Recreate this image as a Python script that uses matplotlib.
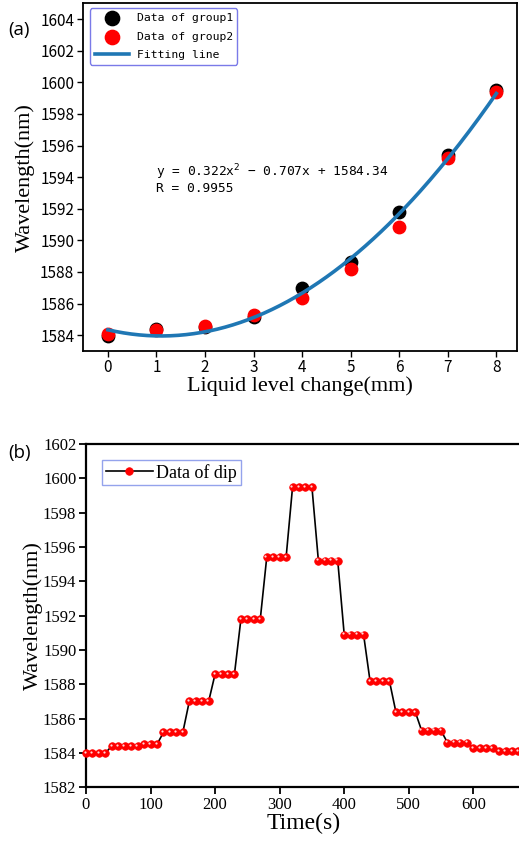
import numpy as np
import matplotlib
matplotlib.use("Agg")
import matplotlib.pyplot as plt
from matplotlib.transforms import offset_copy

# ---------------- data ----------------
level_mm = [0, 1, 2, 3, 4, 5, 6, 7, 8]
group1 = [1583.96, 1584.42, 1584.52, 1585.16, 1586.99, 1588.63, 1591.77, 1595.37, 1599.52]
group2 = [1584.10, 1584.32, 1584.59, 1585.30, 1586.36, 1588.20, 1590.84, 1595.22, 1599.41]
fit_coef = [0.322, -0.707, 1584.34]          # y = a x^2 + b x + c (from the chart text)
fit_text = "y = 0.322x$^2$ \u2212 0.707x + 1584.34"
r_text = "R = 0.9955"

time_s = list(range(0, 680, 10))
dip_nm = [1584.0, 1584.0, 1584.0, 1584.0,
          1584.4, 1584.4, 1584.4, 1584.4, 1584.4,
          1584.5, 1584.5, 1584.5,
          1585.2, 1585.2, 1585.2, 1585.2,
          1587.0, 1587.0, 1587.0, 1587.0,
          1588.6, 1588.6, 1588.6, 1588.6,
          1591.8, 1591.8, 1591.8, 1591.8,
          1595.4, 1595.4, 1595.4, 1595.4,
          1599.5, 1599.5, 1599.5, 1599.5,
          1595.2, 1595.2, 1595.2, 1595.2,
          1590.9, 1590.9, 1590.9, 1590.9,
          1588.2, 1588.2, 1588.2, 1588.2,
          1586.4, 1586.4, 1586.4, 1586.4,
          1585.3, 1585.3, 1585.3, 1585.3,
          1584.6, 1584.6, 1584.6, 1584.6,
          1584.3, 1584.3, 1584.3, 1584.3,
          1584.1, 1584.1, 1584.1, 1584.1]

xticks_a = [0, 1, 2, 3, 4, 5, 6, 7, 8]
yticks_a = list(range(1584, 1606, 2))
xticks_b = [0, 100, 200, 300, 400, 500, 600]
yticks_b = list(range(1582, 1604, 2))

# ---------------- figure ----------------
fig = plt.figure(figsize=(5.19, 8.47), dpi=100)
serif = "Liberation Serif"
sans = "Noto Sans CJK SC"
mono = "DejaVu Sans Mono"

# ---- panel (a) ----
ax1 = fig.add_axes([0.1593, 0.5856, 0.9956 - 0.1593, 0.9961 - 0.5856])
ax1.scatter(level_mm, group1, s=80, color="black", label="Data of group1", zorder=3)
ax1.scatter(level_mm, group2, s=80, color="red", label="Data of group2", zorder=4)
xf = np.linspace(level_mm[0], level_mm[-1], 200)
yf = np.polyval(fit_coef, xf)
ax1.plot(xf, yf, color="#1f77b4", lw=2.6, label="Fitting line", zorder=5)
ax1.set_xlim(-0.52, 8.42)
ax1.set_ylim(1583.0, 1605.0)
ax1.set_xticks(xticks_a)
ax1.set_yticks(yticks_a)
for lab in ax1.get_xticklabels() + ax1.get_yticklabels():
    lab.set_fontfamily(sans)
    lab.set_fontsize(11)
ax1.tick_params(direction="out", length=4, width=1, pad=2)
for sp in ax1.spines.values():
    sp.set_linewidth(1.3)
ax1.set_xlabel("Liquid level change(mm)", fontfamily=serif, fontsize=16, labelpad=0)
ax1.set_ylabel("Wavelength(nm)", fontfamily=serif, fontsize=16, labelpad=4)
ax1.text(1.0, 1594.3, fit_text, fontfamily=mono, fontsize=9.3, va="center", ha="left")
ax1.text(1.0, 1593.3, r_text, fontfamily=mono, fontsize=9.3, va="center", ha="left")
leg1 = ax1.legend(loc="upper left", prop={"family": mono, "size": 8.2},
                  frameon=True, fancybox=True, borderpad=0.4, labelspacing=0.75,
                  handlelength=3.0, handletextpad=0.7, borderaxespad=0.45,
                  markerscale=1.15, bbox_to_anchor=(0.005, 1.0))
leg1.get_frame().set_edgecolor("#7a7ae8")
leg1.get_frame().set_linewidth(1.0)
leg1.get_frame().set_alpha(1)

# ---- panel (b) ----
ax2 = fig.add_axes([0.1657, 0.0705, 1.004 - 0.1657, 0.4758 - 0.0705])
ax2.plot(time_s, dip_nm, color="black", lw=1.2, marker="o", markersize=5.4,
         markerfacecolor="red", markeredgecolor="red", markeredgewidth=0.6,
         label="Data of dip", zorder=3, clip_on=False)
hl = offset_copy(ax2.transData, fig=fig, x=-0.9, y=0.9, units="points")
ax2.plot(time_s, dip_nm, linestyle="none", marker="o", markersize=1.6,
         markerfacecolor="white", markeredgecolor="none", alpha=0.85,
         transform=hl, zorder=4, clip_on=False)
ax2.set_xlim(0, 674)
ax2.set_ylim(1582, 1602)
ax2.set_xticks(xticks_b)
ax2.set_yticks(yticks_b)
for lab in ax2.get_xticklabels() + ax2.get_yticklabels():
    lab.set_fontfamily(serif)
    lab.set_fontsize(12)
ax2.tick_params(direction="out", length=5, width=1.3, pad=2)
for sp in ax2.spines.values():
    sp.set_linewidth(1.6)
ax2.spines["right"].set_visible(False)
ax2.set_xlabel("Time(s)", fontfamily=serif, fontsize=17, labelpad=0)
ax2.set_ylabel("Wavelength(nm)", fontfamily=serif, fontsize=16, labelpad=0)
leg2 = ax2.legend(loc="upper left", prop={"family": serif, "size": 13},
                  frameon=True, fancybox=False, borderpad=0.2,
                  handlelength=2.6, handletextpad=0.2, borderaxespad=0.9)
leg2.get_frame().set_edgecolor("#7a8ce8")
leg2.get_frame().set_linewidth(1.0)

# panel labels
fig.text(0.015, 0.965, "(a)", fontsize=13.5, fontfamily="Open Sans", va="center")
fig.text(0.015, 0.465, "(b)", fontsize=13.5, fontfamily="Open Sans", va="center")

fig.savefig("out.png", dpi=100)
